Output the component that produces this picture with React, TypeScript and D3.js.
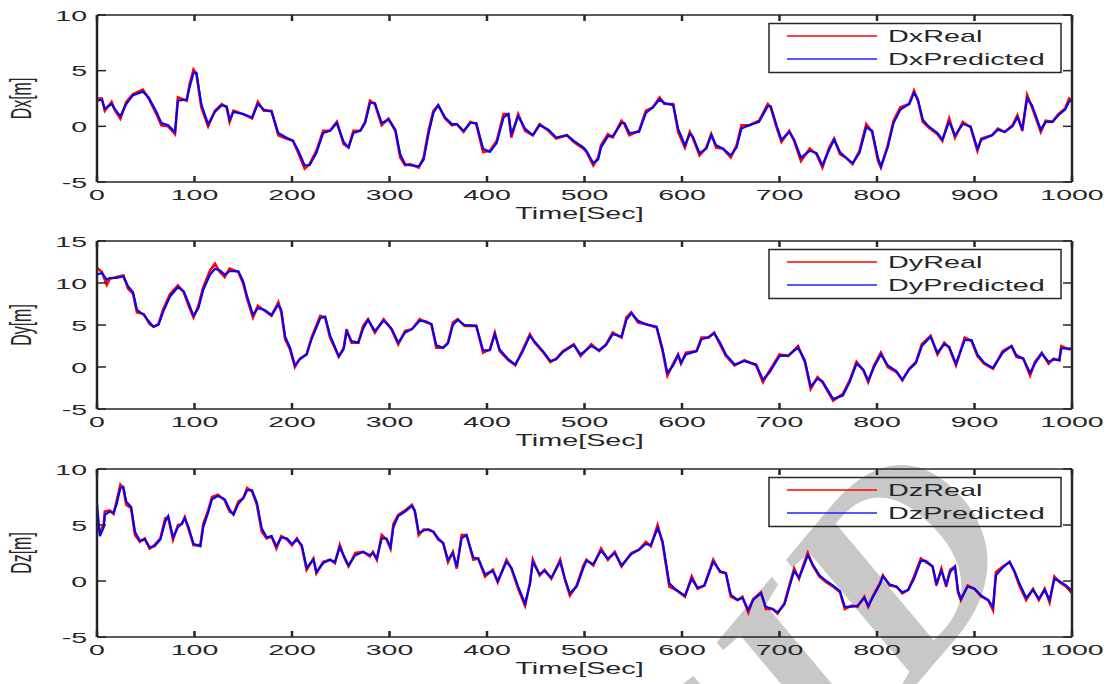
import React from 'react';
import * as d3 from 'd3';

// time stamps (s) and values
const dxTime = [0,5,8,15,18,24,30,37,47,53,
  61,66,73,80,83,92,95,99,102,107,
  114,121,128,133,136,140,150,159,165,171,
  179,186,194,201,206,213,218,225,232,239,
  246,253,258,263,270,275,280,285,292,299,
  306,311,316,321,330,335,340,345,350,357,
  364,369,376,383,389,396,403,410,417,422,
  425,432,439,447,454,463,471,482,489,499,
  502,509,514,517,524,529,538,541,546,556,
  563,570,577,582,591,596,603,608,611,618,
  625,630,635,642,650,656,661,669,679,688,
  691,697,702,710,715,722,731,738,744,751,
  756,762,768,775,782,789,795,801,804,811,
  817,824,833,838,842,847,853,862,867,874,
  880,888,896,903,907,918,924,931,939,944,
  949,954,959,968,973,980,986,993,997,1000];
const dxReal = [2.5,2.5,1.4,2.2,1.5,0.7,2.2,2.9,3.3,2.5,
  1.1,0.1,0,-0.7,2.6,2.3,3.8,5.1,4.7,1.7,
  0,1.4,2.0,1.7,0.4,1.4,1.1,0.7,2.2,1.4,
  1.4,-0.8,-1.1,-1.3,-2.3,-3.8,-3.4,-2.2,-0.4,-0.4,
  0.4,-1.6,-1.9,-0.4,-0.4,0.4,2.3,2.0,0.1,0.7,
  -0.4,-2.8,-3.5,-3.4,-3.7,-2.8,-0.4,1.4,1.9,0.7,
  0.1,0.2,-0.5,0.4,0.2,-2.3,-2.2,-1.3,1.1,1.1,
  -1.0,1.1,-0.4,-0.8,0.2,-0.4,-1.1,-0.8,-1.4,-2.0,
  -2.3,-3.5,-2.8,-1.7,-0.7,-1.0,0.5,0.2,-0.8,-0.4,
  1.4,1.7,2.6,2.0,2.0,-0.5,-1.9,-0.5,-1.0,-2.6,
  -1.9,-0.7,-1.9,-2.0,-2.8,-1.7,0.1,0.1,0.5,2.0,
  1.7,-0.1,-1.4,-0.4,-1.3,-3.1,-2.0,-2.5,-3.7,-1.9,
  -1.1,-2.5,-2.8,-3.4,-2.2,0.2,-0.5,-3.1,-3.7,-1.7,
  0.5,1.7,2.0,3.2,2.3,0.4,-0.1,-0.7,-1.3,0.7,
  -1.0,0.4,-0.1,-2.2,-1.1,-0.8,-0.2,-0.5,0.1,1.0,
  -0.4,2.8,1.7,-0.5,0.5,0.4,1.1,1.6,2.5,2.3];
const dxPred = [2.3,2.4,1.6,2.0,1.6,0.9,2.0,2.8,3.1,2.6,
  1.3,0.3,0.1,-0.5,2.3,2.4,3.5,4.8,4.8,2.0,
  0.2,1.3,1.9,1.8,0.6,1.3,1.1,0.8,2.0,1.5,
  1.3,-0.6,-1.0,-1.3,-2.1,-3.5,-3.5,-2.4,-0.6,-0.4,
  0.3,-1.4,-1.9,-0.6,-0.4,0.3,2.1,2.1,0.3,0.6,
  -0.3,-2.5,-3.4,-3.5,-3.6,-3.0,-0.7,1.2,1.9,0.8,
  0.2,0.2,-0.4,0.3,0.3,-2.0,-2.3,-1.5,0.8,1.1,
  -0.7,0.9,-0.2,-0.8,0.1,-0.3,-1.0,-0.8,-1.3,-1.9,
  -2.2,-3.3,-3.0,-1.9,-0.9,-0.9,0.3,0.3,-0.6,-0.5,
  1.2,1.7,2.4,2.1,1.9,-0.2,-1.7,-0.7,-0.9,-2.4,
  -2.0,-0.8,-1.7,-2.0,-2.6,-1.9,-0.2,0.1,0.4,1.8,
  1.8,0.1,-1.2,-0.5,-1.2,-2.8,-2.2,-2.4,-3.5,-2.1,
  -1.2,-2.3,-2.8,-3.3,-2.4,-0.1,-0.4,-2.8,-3.6,-1.9,
  0.3,1.5,2.0,3.0,2.4,0.6,0.0,-0.6,-1.2,0.4,
  -0.8,0.2,0.0,-2.0,-1.2,-0.8,-0.3,-0.5,0.0,0.8,
  -0.2,2.5,1.9,-0.3,0.4,0.4,1.0,1.5,2.2,2.4];

const dyTime = [0,5,10,13,20,27,32,37,41,48,
  54,58,63,68,75,83,89,94,99,104,
  109,116,121,126,131,136,145,150,154,160,
  165,172,179,186,189,193,198,203,208,215,
  220,229,234,239,248,253,256,261,268,273,
  278,285,294,302,309,316,323,331,338,343,
  348,355,360,365,370,377,389,396,403,408,
  413,422,429,436,444,449,458,465,471,478,
  489,496,507,515,522,529,538,543,548,555,
  563,574,580,585,591,596,599,604,615,620,
  627,633,639,645,654,664,676,683,690,700,
  709,719,726,732,739,744,755,765,772,779,
  786,791,797,804,811,820,826,833,840,846,
  855,862,869,874,881,890,897,903,910,919,
  929,938,943,950,957,962,969,976,981,987,
  989,997,1000];
const dyReal = [11.8,11.3,9.8,10.5,10.7,10.9,9.3,8.7,6.5,6.3,
  5.1,4.8,5.1,6.9,8.7,9.7,8.9,7.3,5.9,7.3,
  9.5,11.5,12.3,11.3,10.7,11.7,11.3,9.9,8.1,5.9,
  7.3,6.7,6.1,7.7,6.5,3.3,2.1,0.0,1.0,1.5,
  3.5,6.1,5.9,3.5,1.2,2.3,4.5,2.9,2.9,4.9,
  5.7,4.1,5.7,4.5,2.7,4.3,4.5,5.7,5.3,5.1,
  2.3,2.3,2.9,5.3,5.7,4.9,4.9,1.7,2.1,4.1,
  1.9,0.8,0.2,1.9,3.9,2.9,1.7,0.6,1.0,1.9,
  2.7,1.3,2.7,1.9,2.7,4.1,3.5,5.9,6.5,5.3,
  5.1,4.7,1.9,-1.0,0.4,1.5,0.4,1.7,1.9,3.5,
  3.5,4.1,2.7,1.3,0.2,0.8,0.2,-1.8,-0.4,1.5,
  1.3,2.5,0.6,-2.6,-1.2,-1.8,-4.0,-3.2,-1.6,0.6,
  -0.4,-1.8,0.2,1.7,0.0,-0.6,-1.6,-0.2,0.6,2.7,
  3.7,1.5,2.9,2.3,0.2,3.5,3.1,1.3,0.4,-0.2,
  1.9,2.5,1.2,1.0,-1.0,0.6,1.7,0.4,1.0,0.8,
  2.5,2.1,2.2];
const dyPred = [11.0,11.2,10.4,10.6,10.6,10.8,9.6,8.9,6.8,6.2,
  5.3,4.8,5.0,6.6,8.4,9.5,9.0,7.6,6.1,7.0,
  9.2,11.0,11.7,11.5,11.0,11.4,11.4,10.2,8.4,6.2,
  7.0,6.8,6.2,7.4,6.8,3.6,2.3,0.2,0.9,1.5,
  3.3,5.8,6.0,3.8,1.3,2.1,4.2,3.1,2.9,4.6,
  5.6,4.3,5.5,4.6,2.9,4.1,4.5,5.5,5.4,5.1,
  2.6,2.3,2.8,5.0,5.6,5.0,4.9,2.0,2.0,3.9,
  2.1,0.9,0.3,1.7,3.7,3.0,1.8,0.7,0.9,1.8,
  2.6,1.5,2.5,2.0,2.6,3.9,3.6,5.6,6.4,5.5,
  5.1,4.8,2.2,-0.7,0.2,1.4,0.5,1.5,1.9,3.3,
  3.5,4.0,2.9,1.5,0.3,0.7,0.3,-1.5,-0.6,1.3,
  1.4,2.3,0.8,-2.3,-1.4,-1.7,-3.8,-3.4,-1.8,0.4,
  -0.3,-1.6,0.0,1.5,0.2,-0.5,-1.5,-0.3,0.5,2.5,
  3.6,1.7,2.7,2.4,0.4,3.2,3.2,1.5,0.5,-0.1,
  1.7,2.5,1.4,1.0,-0.7,0.4,1.6,0.6,0.9,0.8,
  2.2,2.2,2.2];

const dzTime = [0,3,7,8,13,17,20,24,27,30,
  35,39,44,49,54,59,65,70,73,78,
  83,87,90,94,99,106,109,114,118,124,
  131,136,140,145,150,154,159,164,169,174,
  179,184,189,195,200,205,210,215,222,225,
  232,239,244,249,254,258,265,273,280,283,
  287,292,297,301,304,309,316,323,326,330,
  335,340,345,350,355,360,365,369,374,379,
  386,391,398,406,411,420,425,432,439,444,
  447,454,459,466,475,480,485,492,499,502,
  509,517,524,531,538,548,556,563,568,575,
  580,587,594,603,610,616,623,632,639,645,
  650,657,662,668,673,681,686,693,698,705,
  710,715,720,724,729,734,741,748,755,762,
  767,774,780,787,791,796,803,806,813,820,
  826,832,838,845,850,857,861,866,871,875,
  880,883,886,893,900,907,914,919,922,929,
  936,941,946,953,960,966,972,977,982,987,
  994,999,1000];
const dzReal = [5.0,4.3,5.1,6.2,6.3,6.0,7.1,8.6,8.3,6.8,
  6.5,4.1,3.5,3.8,2.9,3.2,3.8,5.6,5.7,3.7,
  5.0,5.1,5.7,4.6,3.2,3.2,5.1,6.3,7.5,7.7,
  7.2,6.2,6.0,7.1,7.4,8.3,8.0,6.8,4.4,3.8,
  4.0,2.9,4.0,3.7,3.2,3.8,3.1,1.0,2.0,0.7,
  1.7,1.9,1.6,3.2,2.0,1.3,2.5,2.6,2.2,2.6,
  1.9,4.1,3.7,2.9,5.1,5.9,6.3,6.8,6.2,4.1,
  4.6,4.6,4.4,3.7,3.4,1.7,2.6,1.1,4.1,4.1,
  1.9,2.0,0.4,1.0,-0.1,1.9,1.1,-0.7,-2.2,-0.2,
  1.9,0.5,1.0,0.2,1.9,0.1,-1.3,-0.4,1.4,1.9,
  1.4,2.9,1.9,2.6,1.3,2.5,2.8,3.5,3.1,5.0,
  3.4,-0.5,-0.8,-1.4,0.4,-0.7,-0.4,1.9,0.8,0.7,
  -1.4,-1.7,-1.4,-2.8,-1.6,-1.0,-2.5,-2.5,-2.9,-2.0,
  -0.4,1.1,0.2,1.3,2.5,1.4,0.4,-0.1,-0.5,-1.0,
  -2.5,-2.2,-2.3,-1.4,-2.3,-1.3,-0.2,0.5,-0.4,-0.5,
  -1.1,-0.8,0.4,2.0,1.7,1.3,-0.4,1.1,-0.5,1.0,
  1.3,-1.0,-1.7,-0.4,-0.7,-1.4,-1.7,-2.6,0.8,1.3,
  1.7,0.8,-0.4,-1.7,-0.7,-1.7,-0.7,-1.9,0.4,-0.1,
  -0.5,-1.0,-0.8];
const dzPred = [7.0,4.0,4.8,5.9,6.2,6.1,6.8,8.3,8.4,7.1,
  6.6,4.4,3.6,3.7,3.0,3.1,3.7,5.3,5.8,3.9,
  4.8,5.1,5.6,4.8,3.3,3.1,4.8,6.1,7.3,7.6,
  7.3,6.4,5.9,6.9,7.4,8.1,8.1,7.0,4.7,3.9,
  4.0,3.1,3.9,3.8,3.3,3.7,3.2,1.2,1.9,0.8,
  1.6,1.9,1.7,3.0,2.1,1.4,2.3,2.6,2.3,2.5,
  2.0,3.8,3.8,3.0,4.8,5.8,6.2,6.7,6.3,4.3,
  4.5,4.6,4.4,3.8,3.4,1.9,2.5,1.3,3.8,4.1,
  2.1,2.0,0.6,0.9,0.0,1.7,1.2,-0.5,-2.0,-0.3,
  1.7,0.6,0.9,0.3,1.7,0.2,-1.1,-0.5,1.2,1.8,
  1.5,2.7,2.0,2.5,1.4,2.4,2.8,3.3,3.2,4.7,
  3.6,-0.2,-0.8,-1.3,0.2,-0.6,-0.4,1.7,0.9,0.7,
  -1.2,-1.7,-1.5,-2.6,-1.7,-1.1,-2.3,-2.5,-2.8,-2.1,
  -0.6,0.9,0.3,1.1,2.3,1.5,0.5,0.0,-0.4,-0.9,
  -2.3,-2.3,-2.2,-1.5,-2.2,-1.4,-0.3,0.4,-0.3,-0.5,
  -1.0,-0.8,0.2,1.8,1.8,1.3,-0.2,0.9,-0.3,0.8,
  1.3,-0.8,-1.6,-0.5,-0.7,-1.3,-1.7,-2.3,0.5,1.2,
  1.7,0.9,-0.2,-1.5,-0.8,-1.6,-0.8,-1.7,0.2,0.0,
  -0.4,-0.8,-0.7];

const xTicks = [0, 100, 200, 300, 400, 500, 600, 700, 800, 900, 1000];
const dxTicks = [-5, 0, 5, 10];
const dyTicks = [-5, 0, 5, 10, 15];
const dzTicks = [-5, 0, 5, 10];

const FONT = '"Liberation Sans", Arial, sans-serif';
const INK = '#262626';

const panels = [
  { name: 'Dx', time: dxTime, real: dxReal, pred: dxPred, domain: [-5, 10], ticks: dxTicks, top: 15, bottom: 182 },
  { name: 'Dy', time: dyTime, real: dyReal, pred: dyPred, domain: [-5, 15], ticks: dyTicks, top: 241, bottom: 409 },
  { name: 'Dz', time: dzTime, real: dzReal, pred: dzPred, domain: [-5, 10], ticks: dzTicks, top: 469, bottom: 637 },
];

const left = 97;
const right = 1072;

const Label = ({ x, y, children, anchor = 'middle', size = 15, sx = 1.9, rotate = 0 }: any) => (
  <text
    transform={`translate(${x},${y}) scale(${sx},1)${rotate ? ` rotate(${rotate})` : ''}`}
    textAnchor={anchor}
    fontFamily={FONT}
    fontSize={size}
    fill={INK}
  >
    {children}
  </text>
);

const Panel = ({ p }: any) => {
  const x = d3.scaleLinear().domain([0, 1000]).range([left, right]);
  const y = d3.scaleLinear().domain(p.domain).range([p.bottom, p.top]);
  const n = Math.min(p.time.length, p.real.length, p.pred.length);
  const idx = d3.range(n);
  const lineReal = d3.line<number>().x((i) => x(p.time[i])).y((i) => y(p.real[i]));
  const linePred = d3.line<number>().x((i) => x(p.time[i])).y((i) => y(p.pred[i]));
  const midY = (p.top + p.bottom) / 2;
  const lg = { x0: 769, x1: 1061, y0: p.top + 8.5, y1: p.top + 57.5 };

  return (
    <g>
      <defs>
        <clipPath id={`clip-${p.name}`}>
          <rect x={left} y={p.top} width={right - left} height={p.bottom - p.top} />
        </clipPath>
      </defs>
      <g clipPath={`url(#clip-${p.name})`}>
        <path d={lineReal(idx) || ''} fill="none" stroke="#ff0000" strokeWidth={2.6} strokeLinejoin="miter" />
        <path d={linePred(idx) || ''} fill="none" stroke="#0000ff" strokeWidth={2.1} strokeLinejoin="miter" />
      </g>

      {/* box */}
      <line x1={left} x2={right} y1={p.top} y2={p.top} stroke={INK} strokeWidth={1.5} />
      <line x1={left} x2={right} y1={p.bottom} y2={p.bottom} stroke={INK} strokeWidth={1.5} />
      <line x1={left} x2={left} y1={p.top} y2={p.bottom} stroke={INK} strokeWidth={2.5} />
      <line x1={right} x2={right} y1={p.top} y2={p.bottom} stroke={INK} strokeWidth={2.5} />

      {/* inward ticks */}
      {xTicks.map((t) => (
        <g key={`xt${t}`}>
          <line x1={x(t)} x2={x(t)} y1={p.bottom} y2={p.bottom - 6} stroke={INK} strokeWidth={2.5} />
          <line x1={x(t)} x2={x(t)} y1={p.top} y2={p.top + 6} stroke={INK} strokeWidth={2.5} />
          <Label x={x(t)} y={p.bottom + 18}>{t}</Label>
        </g>
      ))}
      {p.ticks.map((t: number) => (
        <g key={`yt${t}`}>
          <line x1={left} x2={left + 9} y1={y(t)} y2={y(t)} stroke={INK} strokeWidth={1.5} />
          <line x1={right} x2={right - 9} y1={y(t)} y2={y(t)} stroke={INK} strokeWidth={1.5} />
          <Label x={87} y={y(t) + 5.5} anchor="end">{t}</Label>
        </g>
      ))}

      <Label x={(left + right) / 2 - 5} y={p.bottom + 37} size={16} sx={1.8}>Time[Sec]</Label>
      <Label x={31} y={midY} size={16} sx={1.8} rotate={-90}>{`${p.name}[m]`}</Label>

      {/* legend */}
      <rect x={lg.x0} y={lg.y0} width={lg.x1 - lg.x0} height={lg.y1 - lg.y0} fill="none" stroke={INK} strokeWidth={1.5} />
      <line x1={787} x2={877} y1={p.top + 21} y2={p.top + 21} stroke="#ff0000" strokeWidth={1.3} />
      <line x1={787} x2={877} y1={p.top + 44} y2={p.top + 44} stroke="#2020ff" strokeWidth={1.5} />
      <Label x={888} y={p.top + 27} anchor="start" size={16} sx={1.8}>{`${p.name}Real`}</Label>
      <Label x={888} y={p.top + 50} anchor="start" size={16} sx={1.8}>{`${p.name}Predicted`}</Label>
    </g>
  );
};

const App = () => (
  <svg
    width={1107}
    height={684}
    style={{ position: 'absolute', left: 0, top: 0, background: '#fff' }}
  >
    <rect width={1107} height={684} fill="#fff" />
    {/* watermark */}
    <text
      transform="translate(885,722) rotate(-50)"
      textAnchor="middle"
      fontFamily='"Liberation Serif", "DejaVu Serif", serif'
      fontStyle="italic"
      fontWeight="bold"
      fontSize={275}
      fill="#c8c8c8"
    >
      SID
    </text>
    {panels.map((p) => (
      <Panel key={p.name} p={p} />
    ))}
  </svg>
);

export default App;
